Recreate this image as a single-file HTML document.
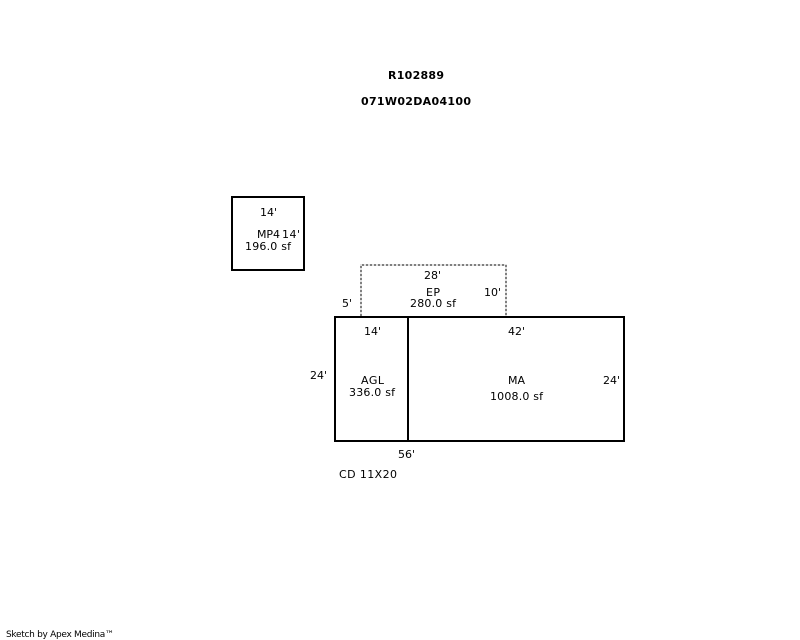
<!DOCTYPE html>
<html>
<head>
<meta charset="utf-8">
<style>
html,body{margin:0;padding:0;background:#fff;width:800px;height:640px;overflow:hidden}
svg{display:block}
text{font-family:"DejaVu Sans","Liberation Sans",sans-serif;font-size:11px;fill:#000}
.b{font-weight:bold;font-size:11px}
.s{font-size:9px}
</style>
</head>
<body>
<svg width="800" height="640" viewBox="0 0 800 640" xmlns="http://www.w3.org/2000/svg">
<path d="M361 316V265H506V316" fill="none" stroke="#e2e2e2" stroke-width="2" shape-rendering="crispEdges"/>
<path d="M361 316V265H506V316" fill="none" stroke="#808080" stroke-width="2" stroke-dasharray="2 2" shape-rendering="crispEdges"/>
<g fill="none" stroke="#000" stroke-width="2" shape-rendering="crispEdges">
<rect x="232" y="197" width="72" height="73"/>
<rect x="335" y="317" width="289" height="124"/>
<line x1="408" y1="317" x2="408" y2="441"/>
</g>
<text class="b" x="388" y="79" textLength="56">R102889</text>
<text class="b" x="361" y="105" textLength="110">071W02DA04100</text>
<text x="260" y="216" textLength="17">14'</text>
<text x="257" y="238" textLength="23">MP4</text>
<text x="282" y="238" textLength="18">14'</text>
<text x="245" y="250" textLength="46">196.0 sf</text>
<text x="424" y="279" textLength="17">28'</text>
<text x="426" y="296" textLength="14">EP</text>
<text x="410" y="307" textLength="46">280.0 sf</text>
<text x="484" y="296" textLength="17">10'</text>
<text x="342" y="307" textLength="10">5'</text>
<text x="364" y="335" textLength="17">14'</text>
<text x="508" y="335" textLength="17">42'</text>
<text x="310" y="379" textLength="17">24'</text>
<text x="361" y="384" textLength="23">AGL</text>
<text x="349" y="396" textLength="46">336.0 sf</text>
<text x="508" y="384" textLength="17">MA</text>
<text x="490" y="400" textLength="53">1008.0 sf</text>
<text x="603" y="384" textLength="17">24'</text>
<text x="398" y="458" textLength="17">56'</text>
<text x="339" y="478" textLength="58">CD 11X20</text>
<text class="s" x="6" y="637" textLength="108">Sketch by Apex Medina™</text>
</svg>
</body>
</html>
